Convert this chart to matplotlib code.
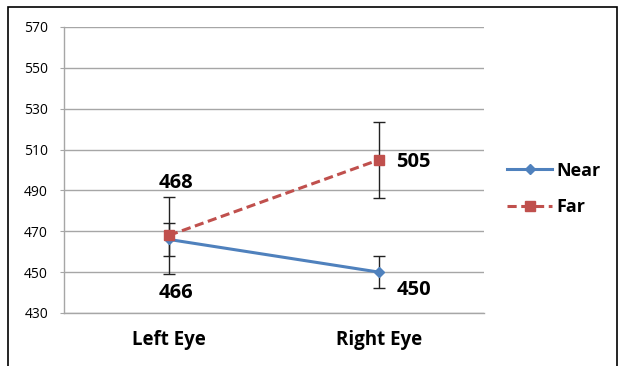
import matplotlib
matplotlib.use("Agg")
import matplotlib.pyplot as plt
from matplotlib.patches import Rectangle

categories = ["Left Eye", "Right Eye"]
near = [466, 450]
far = [468, 505]
near_err = [8, 8]
far_err = [19, 18.5]
yticks = [430, 450, 470, 490, 510, 530, 550, 570]

plt.rcParams['font.family'] = ['Open Sans', 'DejaVu Sans']

fig = plt.figure(figsize=(6.2, 3.66), dpi=100)
ax = fig.add_axes([64/620, 1-313/366, 420/620, 286/366])

x = [0, 1]
ax.errorbar(x, near, yerr=near_err, fmt='none', ecolor='#222222', elinewidth=1, capsize=4, capthick=1, zorder=2)
ax.errorbar(x, far, yerr=far_err, fmt='none', ecolor='#222222', elinewidth=1, capsize=4, capthick=1, zorder=2)
ax.plot(x, near, color='#4F81BD', lw=2.2, marker='D', ms=5, label='Near', zorder=3)
ax.plot(x, far, color='#C0504D', lw=2.2, ls=(0, (3, 1.5)), marker='s', ms=7, label='Far', zorder=4)

ax.set_xlim(-0.5, 1.5)
ax.set_ylim(430, 570)
ax.set_yticks(yticks)
ax.set_yticklabels([str(v) for v in yticks], fontsize=10)
ax.set_xticks(x)
ax.set_xticklabels(categories, fontsize=13.5, fontweight='bold')
ax.tick_params(axis='x', length=0, pad=12)
ax.tick_params(axis='y', length=3, color='#A6A6A6', pad=8.5)
ax.grid(axis='y', color='#A6A6A6', lw=1)
ax.set_axisbelow(True)
for s in ['top', 'right']:
    ax.spines[s].set_visible(False)
for s in ['left', 'bottom']:
    ax.spines[s].set_color('#A6A6A6')
    ax.spines[s].set_linewidth(1)

lab = dict(fontsize=14.5, fontweight='bold', color='black')
ax.annotate(str(far[0]), (x[0], far[0]), xytext=(5, 38), textcoords='offset points', ha='center', va='center', **lab)
ax.annotate(str(near[0]), (x[0], near[0]), xytext=(5, -38.5), textcoords='offset points', ha='center', va='center', **lab)
ax.annotate(str(far[1]), (x[1], far[1]), xytext=(25, -1.5), textcoords='offset points', ha='center', va='center', **lab)
ax.annotate(str(near[1]), (x[1], near[1]), xytext=(25, -13), textcoords='offset points', ha='center', va='center', **lab)

leg = fig.legend(loc='center left', bbox_to_anchor=(500/620, 1-189/366), frameon=False,
                 prop={'size': 13, 'weight': 'bold'}, handlelength=2.5, labelspacing=1.05,
                 handletextpad=0.25, borderaxespad=0)

fig.patches.append(Rectangle((8/620, -0.1), (617-8)/620, 1.1 - 7/366, transform=fig.transFigure,
                             fill=False, edgecolor='black', lw=1.2))

fig.savefig("out.png", dpi=100)
